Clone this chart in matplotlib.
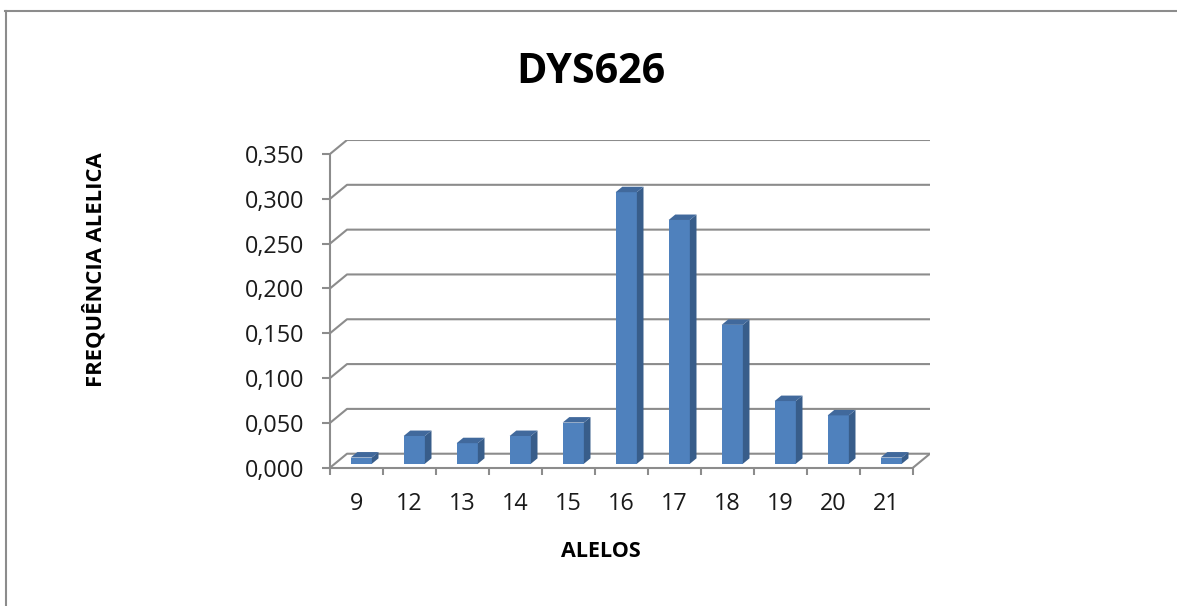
import matplotlib
matplotlib.use("Agg")
import matplotlib.pyplot as plt
from matplotlib.patches import Polygon
import numpy as np

# Allele frequencies for the DYS626 locus
alleles = ["9", "12", "13", "14", "15", "16", "17", "18", "19", "20", "21"]
frequencies = [0.007, 0.031, 0.023, 0.031, 0.046, 0.303, 0.272, 0.155, 0.070, 0.054, 0.007]

y_ticks = [0.000, 0.050, 0.100, 0.150, 0.200, 0.250, 0.300, 0.350]
y_tick_labels = ["0,000", "0,050", "0,100", "0,150", "0,200", "0,250", "0,300", "0,350"]

title_text = "DYS626"
x_label_text = "ALELOS"
y_label_text = "FREQUÊNCIA ALELICA"

plt.rcParams['font.family'] = ['Open Sans', 'DejaVu Sans']

W, H = 1177, 606
fig = plt.figure(figsize=(W / 100, H / 100), dpi=100)
fig.patch.set_facecolor('white')

# plot area: front axes + oblique depth for the 3-D look
ax = fig.add_axes([330 / W, (H - 467.7) / H, 600 / W, 327.7 / H])
ax.set_facecolor('none')

n = len(alleles)
xs = np.arange(n)
depth_x = 0.321      # oblique depth, in category units
depth_y = 0.0156     # oblique depth, in value units
ax.set_xlim(-0.5, n - 0.5 + depth_x)
ax.set_ylim(0, y_ticks[-1] + depth_y)

grid_c = '#8c8c8c'
line_w = 1.5

# side wall + back wall gridlines
for t in y_ticks:
    ax.plot([-0.5, -0.5 + depth_x, n - 0.5 + depth_x],
            [t, t + depth_y, t + depth_y],
            color=grid_c, lw=line_w, zorder=1, solid_capstyle='butt')
# right edge of the floor
ax.plot([n - 0.5, n - 0.5 + depth_x], [0, depth_y],
        color=grid_c, lw=line_w, zorder=1, solid_capstyle='butt')

# 3-D columns
front_c = '#4F81BD'
side_c = '#385D8A'
top_c = '#41699C'
bar_w = 0.40
f0 = 0.28     # depth position of the front face
bd = 0.39     # depth of each column

bars = ax.bar(xs + f0 * depth_x, frequencies, width=bar_w,
              bottom=f0 * depth_y, color=front_c, zorder=3,
              edgecolor='none')
for x, v in zip(xs, frequencies):
    xr = x + bar_w / 2 + f0 * depth_x
    xl = xr - bar_w
    yb = f0 * depth_y
    yt = yb + v
    ox, oy = bd * depth_x, bd * depth_y
    side = Polygon([(xr, yb), (xr + ox, yb + oy), (xr + ox, yt + oy), (xr, yt)],
                   closed=True, facecolor=side_c, edgecolor='none', zorder=3)
    top = Polygon([(xl, yt), (xr, yt), (xr + ox, yt + oy), (xl + ox, yt + oy)],
                  closed=True, facecolor=top_c, edgecolor='none', zorder=3)
    ax.add_patch(side)
    ax.add_patch(top)

# axes lines
for s in ['top', 'right']:
    ax.spines[s].set_visible(False)
ax.spines['left'].set_bounds(0, y_ticks[-1])
ax.spines['bottom'].set_bounds(-0.5, n - 0.5)
for s in ['left', 'bottom']:
    ax.spines[s].set_color(grid_c)
    ax.spines[s].set_linewidth(line_w)
    ax.spines[s].set_zorder(2)

text_c = '#1a1a1a'
ax.set_yticks(y_ticks)
ax.set_yticklabels(y_tick_labels)
ax.tick_params(axis='y', length=5.8, width=line_w, color=grid_c, pad=12.9,
               labelsize=16.8, labelcolor=text_c)

ax.set_xticks(np.arange(-0.5, n, 1.0))
ax.set_xticklabels([])
ax.set_xticks(xs, minor=True)
ax.set_xticklabels(alleles, minor=True)
ax.tick_params(axis='x', which='major', length=5.0, width=line_w, color=grid_c)
ax.tick_params(axis='x', which='minor', length=0, pad=17.5,
               labelsize=16.8, labelcolor=text_c)

# titles
fig.text(591 / W, 1 - 83.3 / H, title_text, ha='center', va='baseline',
         fontsize=29.7, fontweight='bold', color='black')
fig.text(601 / W, 1 - 557 / H, x_label_text, ha='center', va='baseline',
         fontsize=15.5, fontweight='bold', color='black')
fig.text(101.5 / W, 1 - 270 / H, y_label_text, ha='center', va='baseline',
         rotation=90, rotation_mode='anchor',
         fontsize=15.8, fontweight='bold', color='black')

# chart frame (top and left edges)
fig.add_artist(plt.Line2D([5 / W, 1], [1 - 10.5 / H, 1 - 10.5 / H],
                          transform=fig.transFigure, color=grid_c, lw=1.5))
fig.add_artist(plt.Line2D([6.3 / W, 6.3 / W], [0, 1 - 10.5 / H],
                          transform=fig.transFigure, color=grid_c, lw=1.5))

fig.savefig('out.png', dpi=100, facecolor='white')
